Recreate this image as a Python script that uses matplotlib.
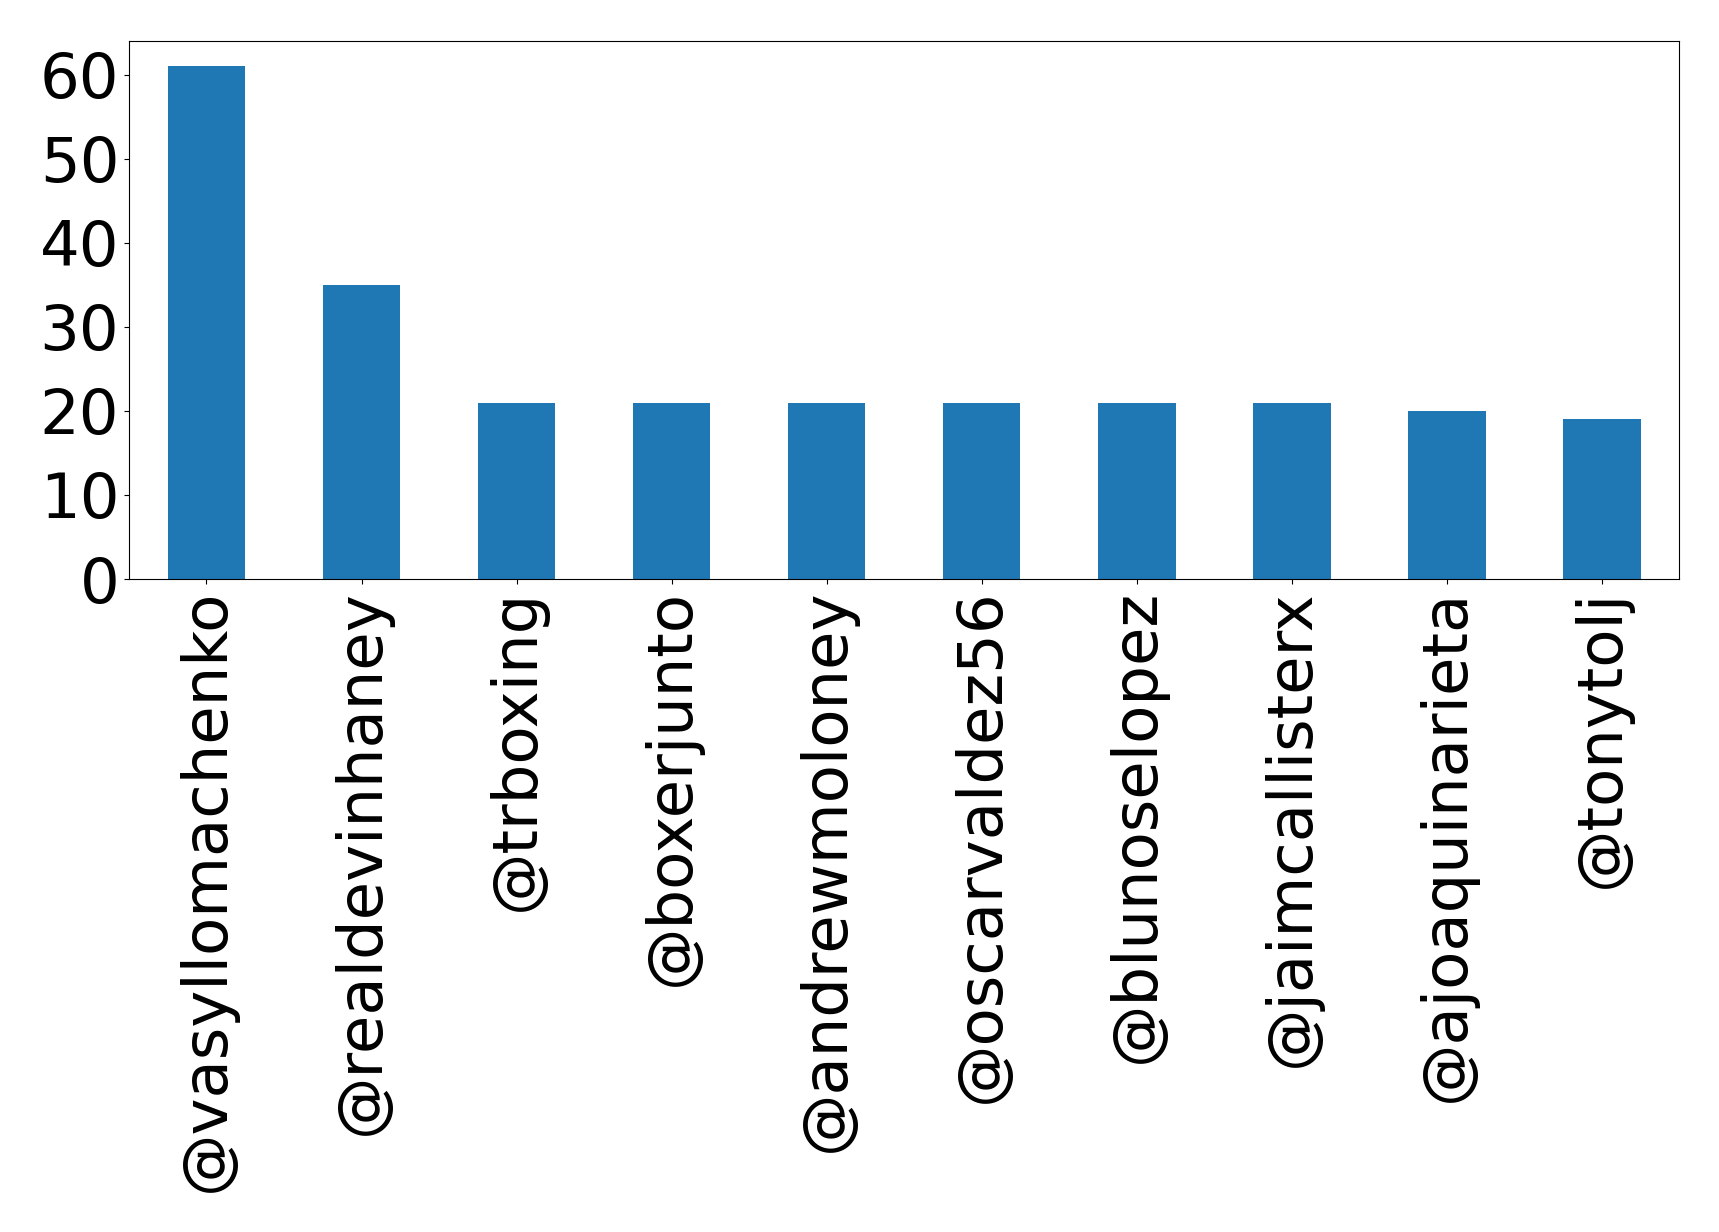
import matplotlib
matplotlib.use('Agg')
import matplotlib.pyplot as plt
from matplotlib.ticker import MultipleLocator
import pandas as pd

users = ['@vasyllomachenko', '@realdevinhaney', '@trboxing', '@boxerjunto',
         '@andrewmoloney', '@oscarvaldez56', '@blunoselopez', '@jaimcallisterx',
         '@ajoaquinarieta', '@tonytolj']
counts = [61, 35, 21, 21, 21, 21, 21, 21, 20, 19]

series = pd.Series(counts, index=users)

fig, ax = plt.subplots(figsize=(17.19, 12.32), dpi=100)
series.plot(kind='bar', ax=ax, color='#1f77b4')
ax.yaxis.set_major_locator(MultipleLocator(10))
ax.tick_params(axis='both', labelsize=45)
plt.setp(ax.get_xticklabels(), rotation=90)
fig.subplots_adjust(left=0.075, right=0.977, top=0.967, bottom=0.530)
fig.savefig('out.png', dpi=100)
